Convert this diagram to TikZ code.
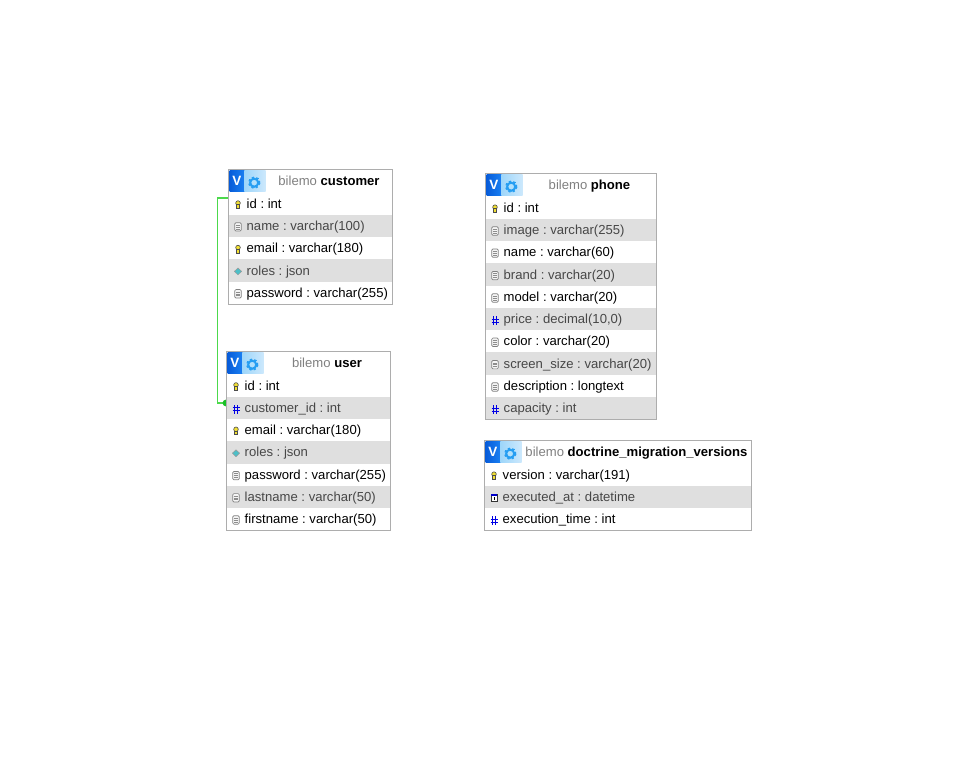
\documentclass[tikz,border=0pt]{standalone}
\usepackage{fontspec}
\setmainfont{Liberation Sans}
\definecolor{shade}{rgb}{.875,.875,.875}
\definecolor{frame}{rgb}{.68,.68,.68}
\definecolor{grn}{rgb}{.3,.85,.3}
\definecolor{grndk}{rgb}{.1,.75,.15}
\definecolor{vblue}{rgb}{.03,.36,.85}
\definecolor{vblueb}{rgb}{.1,.5,.95}
\definecolor{gbg}{rgb}{.62,.84,.98}
\definecolor{gbgb}{rgb}{.8,.91,.99}
\definecolor{gring}{rgb}{.15,.62,.95}
\definecolor{gcore}{rgb}{.7,.88,.99}
\definecolor{keyy}{rgb}{.95,.88,.2}
\definecolor{jsonc}{rgb}{.3,.75,.78}
\newcommand{\icKey}[1]{%
  \fill[keyy,draw=black!70,line width=.6pt] ([shift={(0,-1.4)}]#1) circle (2.3);
  \fill[keyy,draw=black!70,line width=.6pt] ([shift={(-1.4,.2)}]#1) rectangle ([shift={(1.4,3.9)}]#1);}
\newcommand{\icDoc}[1]{%
  \draw[draw=black!50,fill=black!4,line width=.7pt,rounded corners=1.2pt] ([shift={(-3.3,-4)}]#1) rectangle ([shift={(3.3,4.4)}]#1);
  \draw[black!45,line width=.5pt] ([shift={(-1.8,-1.7)}]#1) -- ([shift={(1.8,-1.7)}]#1) ([shift={(-1.8,.2)}]#1) -- ([shift={(1.8,.2)}]#1) ([shift={(-1.8,2.1)}]#1) -- ([shift={(1.8,2.1)}]#1);}
\newcommand{\icHash}[1]{%
  \draw[blue!90!black,line width=.8pt] ([shift={(-1.2,-3.4)}]#1) -- ([shift={(-1.2,5.2)}]#1) ([shift={(1.6,-3.4)}]#1) -- ([shift={(1.6,5.2)}]#1) ([shift={(-3.3,-.6)}]#1) -- ([shift={(3.7,-.6)}]#1) ([shift={(-3.3,2.4)}]#1) -- ([shift={(3.7,2.4)}]#1);}
\newcommand{\icJson}[1]{%
  \fill[jsonc,draw=black!40,line width=.5pt] ([shift={(-3.6,.1)}]#1) -- ([shift={(0,-3.2)}]#1) -- ([shift={(3.6,.1)}]#1) -- ([shift={(0,3.6)}]#1) -- cycle;}
\newcommand{\icDate}[1]{%
  \fill[white,draw=black!80,line width=.5pt] ([shift={(-3.2,-3.2)}]#1) rectangle ([shift={(3.2,3.6)}]#1);
  \fill[blue!80!black] ([shift={(-3.4,-3.6)}]#1) rectangle ([shift={(3.4,-1.6)}]#1);
  \fill[black] ([shift={(-.5,-.8)}]#1) rectangle ([shift={(.7,2.6)}]#1);}
% \dbrow{name}{x0}{x1}{top}{bottom}{icon macro}{text}{fill}{text colour}
\newcommand{\dbrow}[9]{%
  \path[fill=#8] (#2,#4) rectangle (#3,#5);
  \node[rowtext,text=#9] (#1) at (#2+18,{(#4+#5)/2+4.6}) {#7};
  \coordinate (#1ic) at (#2+9.5,{(#4+#5)/2+.8});
  #6{#1ic}}
% \dbhead{name}{x0}{x1}{top}{bottom}{schema}{table}
\newcommand{\dbhead}[7]{%
  \path[left color=vblue,right color=vblueb] (#2+1,#4+1) rectangle (#2+16,#4+22);
  \path[left color=gbg,right color=gbgb] (#2+16,#4+1) rectangle (#2+37,#4+22);
  \node[font=\bfseries\fontsize{13.5}{14}\selectfont,text=white,inner sep=0pt] (#1v) at (#2+8.3,#4+11.5) {V};
  \node[gearbody] (#1g) at (#2+25.7,#4+13.2) {};
  \draw[gring,line width=2.2pt,dash pattern=on 2.2pt off 2.1pt] (#1g) circle (5.2);
  \node[headtext] (#1) at ({(#2+37+#3)/2},#4+16) {\textcolor{black!50}{#6} \textbf{#7}};}
\tikzset{
  rowtext/.style={anchor=base west,inner sep=0pt,font=\fontsize{13.1}{14}\selectfont\frenchspacing},
  headtext/.style={anchor=base,inner sep=0pt,font=\fontsize{13.1}{14}\selectfont\frenchspacing},
  gearbody/.style={circle,draw=gring,line width=2pt,fill=gcore,minimum size=8pt,inner sep=0pt},
  frm/.style={draw=frame,line width=1pt},
  link/.style={draw=grn,line width=1.7pt}
}
\begin{document}
\begin{tikzpicture}[x=1pt,y=-1pt]
\useasboundingbox[fill=white] (0,0) rectangle (962,767);
% relation
\coordinate (portA) at (228,198);
\coordinate (portB) at (226,403);
\draw[link] (portA) -- (217.5,198) |- (portB);
\fill[grndk] (portB) circle (3.4);
% customer
\path[fill=white] (228.5,169.5) rectangle (392.5,304.5);
\dbhead{customerH}{228.5}{392.5}{169.5}{192}{bilemo}{customer}
\dbrow{cId}{228.5}{392.5}{192.5}{214.8}{\icKey}{id : int}{white}{black}
\dbrow{cName}{228.5}{392.5}{214.8}{237}{\icDoc}{name : varchar(100)}{shade}{black!72}
\dbrow{cEmail}{228.5}{392.5}{237}{259.3}{\icKey}{email : varchar(180)}{white}{black}
\dbrow{cRoles}{228.5}{392.5}{259.3}{281.6}{\icJson}{roles : json}{shade}{black!72}
\dbrow{cPass}{228.5}{392.5}{281.6}{304}{\icDoc}{password : varchar(255)}{white}{black}
\draw[frm] (228.5,169.5) rectangle (392.5,304.5);
% user
\path[fill=white] (226.5,351.5) rectangle (390.5,530.5);
\dbhead{userH}{226.5}{390.5}{351.5}{374}{bilemo}{user}
\dbrow{uId}{226.5}{390.5}{374.5}{396.6}{\icKey}{id : int}{white}{black}
\dbrow{uCust}{226.5}{390.5}{396.6}{418.8}{\icHash}{customer\_id : int}{shade}{black!72}
\dbrow{uEmail}{226.5}{390.5}{418.8}{441}{\icKey}{email : varchar(180)}{white}{black}
\dbrow{uRoles}{226.5}{390.5}{441}{463.5}{\icJson}{roles : json}{shade}{black!72}
\dbrow{uPass}{226.5}{390.5}{463.5}{485.7}{\icDoc}{password : varchar(255)}{white}{black}
\dbrow{uLast}{226.5}{390.5}{485.7}{507.9}{\icDoc}{lastname : varchar(50)}{shade}{black!72}
\dbrow{uFirst}{226.5}{390.5}{507.9}{530}{\icDoc}{firstname : varchar(50)}{white}{black}
\draw[frm] (226.5,351.5) rectangle (390.5,530.5);
% phone
\path[fill=white] (485.5,173.5) rectangle (656.5,419.5);
\dbhead{phoneH}{485.5}{656.5}{173.5}{196}{bilemo}{phone}
\dbrow{pId}{485.5}{656.5}{196.5}{219}{\icKey}{id : int}{white}{black}
\dbrow{pImage}{485.5}{656.5}{219}{241}{\icDoc}{image : varchar(255)}{shade}{black!72}
\dbrow{pName}{485.5}{656.5}{241}{263.3}{\icDoc}{name : varchar(60)}{white}{black}
\dbrow{pBrand}{485.5}{656.5}{263.3}{286}{\icDoc}{brand : varchar(20)}{shade}{black!72}
\dbrow{pModel}{485.5}{656.5}{286}{308}{\icDoc}{model : varchar(20)}{white}{black}
\dbrow{pPrice}{485.5}{656.5}{308}{330.2}{\icHash}{price : decimal(10,0)}{shade}{black!72}
\dbrow{pColor}{485.5}{656.5}{330.2}{352.4}{\icDoc}{color : varchar(20)}{white}{black}
\dbrow{pScreen}{485.5}{656.5}{352.4}{375}{\icDoc}{screen\_size : varchar(20)}{shade}{black!72}
\dbrow{pDesc}{485.5}{656.5}{375}{397}{\icDoc}{description : longtext}{white}{black}
\dbrow{pCap}{485.5}{656.5}{397}{419}{\icHash}{capacity : int}{shade}{black!72}
\draw[frm] (485.5,173.5) rectangle (656.5,419.5);
% doctrine
\path[fill=white] (484.5,440.5) rectangle (751.5,530.5);
\dbhead{docH}{484.5}{751.5}{440.5}{463}{bilemo}{doctrine\_migration\_versions}
\dbrow{dVer}{484.5}{751.5}{463.5}{486}{\icKey}{version : varchar(191)}{white}{black}
\dbrow{dExec}{484.5}{751.5}{486}{508}{\icDate}{executed\_at : datetime}{shade}{black!72}
\dbrow{dTime}{484.5}{751.5}{508}{530}{\icHash}{execution\_time : int}{white}{black}
\draw[frm] (484.5,440.5) rectangle (751.5,530.5);
\end{tikzpicture}
\end{document}
